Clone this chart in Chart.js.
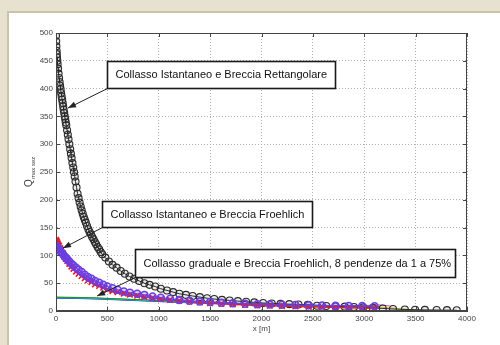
<!DOCTYPE html>
<html>
<head>
<meta charset="utf-8">
<script src="https://cdn.jsdelivr.net/npm/chart.js@4.4.1/dist/chart.umd.min.js"></script>
<style>
html, body { margin: 0; padding: 0; background: #e7e2cf; }
#wrap { position: absolute; left: 7px; top: 11px; width: 493px; height: 334px; background: #fff;
        border-left: 2px solid #c9c4a7; border-top: 2px solid #c9c4a7; box-sizing: border-box; }
canvas { display: block; }
</style>
</head>
<body>
<div id="wrap"><canvas id="myChart" width="491" height="332"></canvas></div>
<script>
// ticks
const xTicks = [0, 500, 1000, 1500, 2000, 2500, 3000, 3500, 4000];
const yTicks = [0, 50, 100, 150, 200, 250, 300, 350, 400, 450, 500];

// Collasso istantaneo - breccia rettangolare (black circles)
const xRett = [0,2,4,6,8,10,13,16,20,25,30,35,40,45,50,55,60,65,70,75,80,85,90,95,100,108,115,122,130,138,145,152,160,168,175,182,190,200,210,220,230,240,250,260,270,280,290,302,315,327,340,352,365,378,390,405,420,435,450,480,515,550,590,630,670,715,760,810,860,910,965,1020,1080,1140,1200,1265,1330,1400,1470,1540,1615,1690,1770,1850,1930,2015,2100,2185,2270,2360,2450,2540,2630,2720,2810,2900,2990,3085,3180,3280,3395,3495,3590,3705,3805,3900];
const qRett = [495,485,476,468,462,456,450,444,436,427,419,412,405,399,392,386,380,374,368,362,356,350,345,339,334,325,317,309,300,291,283,275,266,258,250,242,233,222,211,203,195,188,181,175,169,164,159,153,147,142,138,133,129,124,120,115,111,106,102,96,89,83,78,72,67,62,58,54,50,47,44,40,37,34,31,29,27,25,23,21.5,20,19,17.8,16.7,15.5,14.4,13.6,12.9,12.3,11.7,11,9.5,9,8.4,7.8,7.2,6.6,5.6,4.6,3.6,2.8,2.3,2,1.7,1.5,1.3];

// Collasso istantaneo - breccia Froehlich
const xFro = [0,5,10,15,20,25,30,40,50,65,80,95,110,130,150,170,195,220,250,280,310,345,380,420,460,500,550,600,660,720,790,860,940,1020,1110,1200,1300,1400,1500,1610,1720,1840,1960,2080,2200,2330,2460,2590,2720,2850,2980,3100];
const qFroRed = [128,126,124,122,120,118,117,113,110,104,98,94,90,85,80,76,71,67,63,59,55,52,48,45,42,39,36,34,31.5,29.5,27.5,25.5,23.5,21.5,20,18.5,17,15.5,14,13,12,11,10.2,9.6,9,8.3,7.6,7,6.5,6,5.6,5];
const qFroPurple = [118,117,116,114,113,112,111,108,106,103,99,96,93,89,85,82,78,74,70,65,61,58,54,51,47,44,41,38,35,33,31,29,26,24,22,20,18.5,17,16,15,14,13,12.3,11.8,11.2,10.7,10.2,9.8,9.5,9.2,8.9,8.5];

// Collasso graduale - breccia Froehlich (lines)
const xGrad = [0,200,400,600,800,1000,1250,1500,1750,2000,2250,2500,2750,3000,3150];
const qGradGreen = [25,24.5,23.5,22,20.5,19,17,15.5,14,12.5,11.5,10.5,9.5,8.5,8];
const qGradCyan = [24,23.5,22.5,21,19.5,18,16,14.5,13,12,11,10,9,8,7.5];
const qGradBlack = [24.5,24,23,21.5,20,18.5,16.5,15,13.5,12.3,11.2,10.2,9.2,8.3,7.8];
const qGradBlue = [23,22.5,21.5,20,18.5,17,15,13.5,12.2,11.2,10.3,9.4,8.5,7.6,7];
const xGradMag = [0,200,400,600,800,1000,1250,1500,1750,2000,2250,2500,2750,3000,3150,3250];
const qGradMag = [23.8,23.2,22.2,20.8,19.2,17.8,15.8,14.2,12.8,11.8,10.8,9.8,9.6,9.8,11,9];
const xGradYellow = [0,200,400,600,800,1000,1250,1500,1750,2000,2250,2500,2750,3000,3150,3300,3450,3550];
const qGradYellow = [23.5,23,22,20.5,19,17.5,15.5,14,12.8,11.8,10.8,9.8,8.8,7.8,7,5,2.5,1];

function pts(xs, ys) {
  return xs.map(function (x, i) { return { x: x, y: ys[i] }; });
}

const notes = [
  { text: 'Collasso Istantaneo e Breccia Rettangolare', x0: 496, y0: 450, x1: 2715, y1: 401, tx: 117, ty: 365 },
  { text: 'Collasso Istantaneo e Breccia Froehlich', x0: 448, y0: 198, x1: 2491, y1: 151, tx: 68, ty: 113 },
  { text: 'Collasso graduale e Breccia Froehlich, 8 pendenze da 1 a 75%', x0: 769, y0: 111, x1: 3883, y1: 61, tx: 400, ty: 27 }
];

const boxPlugin = {
  id: 'matlabBox',
  afterDatasetsDraw(chart) {
    const ctx = chart.ctx, a = chart.chartArea;
    const xs = chart.scales.x, ys = chart.scales.y;
    ctx.save();
    // axis box and inward ticks
    ctx.strokeStyle = '#444';
    ctx.lineWidth = 1;
    ctx.strokeRect(a.left + 0.5, a.top + 0.5, a.right - a.left - 1, a.bottom - a.top - 1);
    ctx.beginPath();
    xTicks.forEach(function (t) {
      const p = Math.round(xs.getPixelForValue(t)) + 0.5;
      ctx.moveTo(p, a.bottom); ctx.lineTo(p, a.bottom - 4);
      ctx.moveTo(p, a.top); ctx.lineTo(p, a.top + 4);
    });
    yTicks.forEach(function (t) {
      const p = Math.round(ys.getPixelForValue(t)) + 0.5;
      ctx.moveTo(a.left, p); ctx.lineTo(a.left + 4, p);
      ctx.moveTo(a.right, p); ctx.lineTo(a.right - 4, p);
    });
    ctx.stroke();

    // annotations
    ctx.font = '11px "Liberation Sans", Arial, sans-serif';
    ctx.textBaseline = 'middle';
    notes.forEach(function (n) {
      const l = Math.round(xs.getPixelForValue(n.x0)) + 0.5;
      const t = Math.round(ys.getPixelForValue(n.y0)) + 0.5;
      const r = Math.round(xs.getPixelForValue(n.x1)) + 0.5;
      const b = Math.round(ys.getPixelForValue(n.y1)) + 0.5;
      const px = xs.getPixelForValue(n.tx), py = ys.getPixelForValue(n.ty);
      // arrow
      ctx.strokeStyle = '#222';
      ctx.lineWidth = 1;
      ctx.beginPath();
      ctx.moveTo(l, b); ctx.lineTo(px, py); ctx.stroke();
      const ang = Math.atan2(py - b, px - l);
      ctx.fillStyle = '#222';
      ctx.beginPath();
      ctx.moveTo(px, py);
      ctx.lineTo(px - 8 * Math.cos(ang) + 3 * Math.sin(ang), py - 8 * Math.sin(ang) - 3 * Math.cos(ang));
      ctx.lineTo(px - 8 * Math.cos(ang) - 3 * Math.sin(ang), py - 8 * Math.sin(ang) + 3 * Math.cos(ang));
      ctx.closePath(); ctx.fill();
      // box
      ctx.fillStyle = '#fff';
      ctx.fillRect(l, t, r - l, b - t);
      ctx.strokeStyle = '#1a1a1a';
      ctx.lineWidth = 1.6;
      ctx.strokeRect(l, t, r - l, b - t);
      ctx.fillStyle = '#111';
      ctx.textAlign = 'left';
      ctx.fillText(n.text, l + 8, (t + b) / 2);
    });

    // axis titles
    ctx.fillStyle = '#444';
    ctx.font = '8px "Liberation Sans", Arial, sans-serif';
    ctx.textAlign = 'center';
    ctx.textBaseline = 'middle';
    ctx.fillText('x [m]', (a.left + a.right) / 2, a.bottom + 18);
    ctx.translate(20, (a.top + a.bottom) / 2);
    ctx.rotate(-Math.PI / 2);
    ctx.textAlign = 'left';
    ctx.font = '10px "Liberation Sans", Arial, sans-serif';
    ctx.fillText('Q', -15, 0);
    ctx.font = '6px "Liberation Sans", Arial, sans-serif';
    ctx.fillText('max sez', -7, 4);
    ctx.restore();
  }
};

const tickFont = { family: '"Liberation Sans", Arial, sans-serif', size: 8 };
function plain(v) { return String(v); }

const ctx = document.getElementById('myChart');
const myChart = new Chart(ctx, {
  type: 'scatter',
  data: {
    datasets: [
      { data: pts(xFro, qFroPurple), borderColor: '#6a3ee6', backgroundColor: 'rgba(106,62,230,0.25)',
        showLine: true, borderWidth: 1.2, pointStyle: 'circle', pointRadius: 3.5, pointBorderWidth: 1.5 },
      { data: pts(xFro, qFroRed), borderColor: '#f01818', backgroundColor: '#f01818',
        showLine: true, borderWidth: 1.5, pointStyle: 'crossRot', pointRadius: 4, pointBorderWidth: 1.6 },
      { data: pts(xRett, qRett), borderColor: '#2a2a2a', backgroundColor: 'rgba(0,0,0,0.08)',
        showLine: true, borderWidth: 1, pointStyle: 'circle', pointRadius: 3.5, pointBorderWidth: 1.1 },
      { data: pts(xGrad, qGradGreen), borderColor: '#1a9a1a', showLine: true, borderWidth: 1, pointRadius: 0 },
      { data: pts(xGrad, qGradCyan), borderColor: '#20c8d8', showLine: true, borderWidth: 1, pointRadius: 0 },
      { data: pts(xGrad, qGradBlack), borderColor: '#333', showLine: true, borderWidth: 1, pointRadius: 0 },
      { data: pts(xGrad, qGradBlue), borderColor: '#2040e0', showLine: true, borderWidth: 1, pointRadius: 0 },
      { data: pts(xGradMag, qGradMag), borderColor: '#e040c8', showLine: true, borderWidth: 1, pointRadius: 0 },
      { data: pts(xGradYellow, qGradYellow), borderColor: '#d8d020', showLine: true, borderWidth: 1, pointRadius: 0 }
    ]
  },
  options: {
    responsive: false,
    animation: false,
    devicePixelRatio: 1,
    layout: { padding: { left: 0, top: 20, right: 33, bottom: 0 } },
    plugins: { legend: { display: false }, tooltip: { enabled: false } },
    elements: { line: { tension: 0 } },
    scales: {
      x: {
        type: 'linear', min: 0, max: 4000,
        afterBuildTicks: function (s) { s.ticks = xTicks.map(function (v) { return { value: v }; }); },
        afterFit: function (s) { s.height = 34; },
        grid: { color: '#b0b0b0', drawTicks: false },
        border: { color: '#444', dash: [1, 2] },
        ticks: { font: tickFont, color: '#444', padding: 3, maxRotation: 0, callback: plain }
      },
      y: {
        type: 'linear', min: 0, max: 500,
        afterBuildTicks: function (s) { s.ticks = yTicks.map(function (v) { return { value: v }; }); },
        afterFit: function (s) { s.width = 47; },
        grid: { color: '#b0b0b0', drawTicks: false },
        border: { color: '#444', dash: [1, 2] },
        ticks: { font: tickFont, color: '#444', padding: 3, callback: plain }
      }
    }
  },
  plugins: [boxPlugin]
});
</script>
</body>
</html>
